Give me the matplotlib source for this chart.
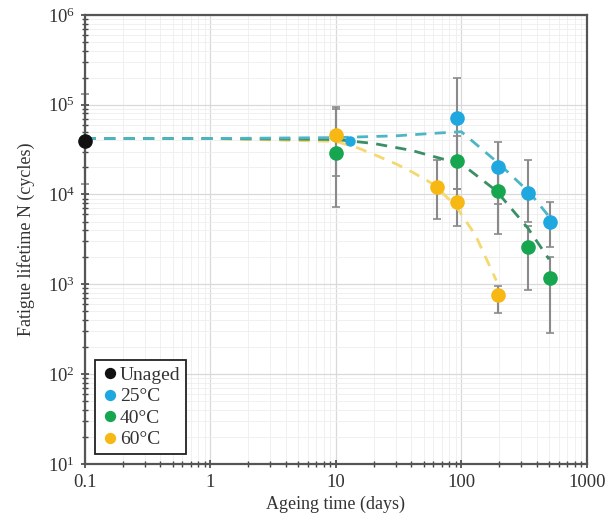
import matplotlib
matplotlib.use("Agg")
import matplotlib.pyplot as plt
import numpy as np
from matplotlib.ticker import FixedLocator, FixedFormatter, LogLocator, NullFormatter

plt.rcParams['font.family'] = ['Liberation Serif', 'DejaVu Serif']
plt.rcParams['mathtext.fontset'] = 'custom'
plt.rcParams['mathtext.rm'] = 'Liberation Serif'

# ---------------- data ----------------
unaged_t = [0.1]
unaged_N = [3.9e4]
unaged_lo = [1.3e4]
unaged_hi = [1.3e5]

t25 = [13, 92, 196, 340, 510]
N25 = [3.9e4, 7.2e4, 2.0e4, 1.05e4, 5.0e3]
lo25 = [3.9e4, 2.6e4, 7.9e3, 5.0e3, 2.6e3]
hi25 = [3.9e4, 2.0e5, 3.8e4, 2.4e4, 8.3e3]

t40 = [10, 92, 196, 340, 510]
N40 = [2.9e4, 2.35e4, 1.1e4, 2.6e3, 1.17e3]
lo40 = [7.2e3, 1.16e4, 3.6e3, 870, 290]
hi40 = [9.5e4, 4.5e4, 2.0e4, 4.5e3, 2.0e3]

t60 = [10, 64, 92, 196]
N60 = [4.6e4, 1.2e4, 8.2e3, 760]
lo60 = [1.6e4, 5.4e3, 4.5e3, 480]
hi60 = [9.0e4, 2.4e4, 1.16e4, 960]

# fitted trend curves
fit25_t = [0.1, 1, 10, 30, 60, 100, 200, 350, 510]
fit25_N = [4.2e4, 4.2e4, 4.3e4, 4.5e4, 4.8e4, 5.0e4, 2.2e4, 1.05e4, 5.5e3]
fit40_t = [0.1, 1, 10, 20, 40, 70, 100, 190, 340, 500]
fit40_N = [4.2e4, 4.2e4, 4.1e4, 3.7e4, 3.1e4, 2.5e4, 2.2e4, 1.1e4, 4.2e3, 1.9e3]
fit60_t = [0.1, 1, 10, 15, 20, 30, 40, 60, 90, 130, 190]
fit60_N = [4.2e4, 4.2e4, 3.9e4, 3.3e4, 2.8e4, 2.2e4, 1.8e4, 1.3e4, 7.5e3, 3.5e3, 1.1e3]

xtick_vals = [0.1, 1, 10, 100, 1000]
xtick_labels = ['0.1', '1', '10', '100', '1000']
labels = ['Unaged', '25°C', '40°C', '60°C']

c_un = '#111111'
c25 = '#1fa8e0'
c40 = '#17a650'
c60 = '#f7b813'
l25 = '#4db6c4'
l40 = '#3a8f66'
l60 = '#f4d870'
ecol = '#8a8a8a'

fig = plt.figure(figsize=(6.10, 5.32), dpi=100)
ax = fig.add_axes([0.139, 0.128, 0.823, 0.844])
ax.set_xscale('log')
ax.set_yscale('log')
ax.set_xlim(0.1, 1000)
ax.set_ylim(10, 1e6)

ax.grid(True, which='major', color='#d9d9d9', lw=0.9, zorder=0)
ax.grid(True, which='minor', color='#eeeeee', lw=0.6, zorder=0)
ax.set_axisbelow(True)

def errs(N, lo, hi):
    N = np.array(N); lo = np.array(lo); hi = np.array(hi)
    return np.vstack([N - lo, hi - N])

ms = 9.5
for t, N, lo, hi, c in [(unaged_t, unaged_N, unaged_lo, unaged_hi, c_un),
                        (t25, N25, lo25, hi25, c25),
                        (t40, N40, lo40, hi40, c40),
                        (t60, N60, lo60, hi60, c60)]:
    ax.errorbar(t, N, yerr=errs(N, lo, hi), fmt='none', ecolor=ecol,
                elinewidth=1.5, capsize=3, capthick=1.2, zorder=2, clip_on=False)

ax.plot(fit60_t, fit60_N, ls=(0, (4, 3)), color=l60, lw=2, zorder=3)
ax.plot(fit40_t, fit40_N, ls=(0, (4, 3)), color=l40, lw=2, zorder=3)
ax.plot(fit25_t, fit25_N, ls=(0, (4, 3)), color=l25, lw=2, zorder=3)

h_un, = ax.plot(unaged_t, unaged_N, 'o', color=c_un, ms=ms, zorder=5, clip_on=False, label=labels[0])
h25, = ax.plot(t25[1:], N25[1:], 'o', color=c25, ms=ms, zorder=4, label=labels[1])
ax.plot(t25[:1], N25[:1], 'o', color=c25, ms=6.5, zorder=4)
h40, = ax.plot(t40, N40, 'o', color=c40, ms=ms, zorder=4, label=labels[2])
h60, = ax.plot(t60, N60, 'o', color=c60, ms=ms, zorder=4, label=labels[3])

ax.xaxis.set_major_locator(FixedLocator(xtick_vals))
ax.xaxis.set_major_formatter(FixedFormatter(xtick_labels))
ax.xaxis.set_minor_locator(LogLocator(base=10, subs=np.arange(2, 10), numticks=20))
ax.xaxis.set_minor_formatter(NullFormatter())
ax.yaxis.set_major_locator(LogLocator(base=10, numticks=10))
ax.yaxis.set_minor_locator(LogLocator(base=10, subs=np.arange(2, 10), numticks=20))
ax.yaxis.set_minor_formatter(NullFormatter())

ax.tick_params(which='major', direction='inout', length=6, width=1.2, color='#444444',
               labelsize=13.5, labelcolor='#333333', pad=4)
ax.tick_params(which='minor', direction='inout', length=4, width=1.0, color='#444444')

for s in ax.spines.values():
    s.set_color('#555555')
    s.set_linewidth(1.6)

ax.set_xlabel('Ageing time (days)', fontsize=13, color='#333333', labelpad=4)
ax.set_ylabel('Fatigue lifetime N (cycles)', fontsize=13, color='#333333', labelpad=9)

leg = ax.legend(handles=[h_un, h25, h40, h60], loc='lower left', fontsize=14,
                handletextpad=0.0, handlelength=1.0, borderpad=0.3, labelspacing=0.2,
                borderaxespad=0.5, fancybox=False, framealpha=1, edgecolor='#222222',
                markerscale=0.75)
leg.get_frame().set_linewidth(1.3)
for txt in leg.get_texts():
    txt.set_color('#333333')

fig.savefig('out.png', dpi=100)
